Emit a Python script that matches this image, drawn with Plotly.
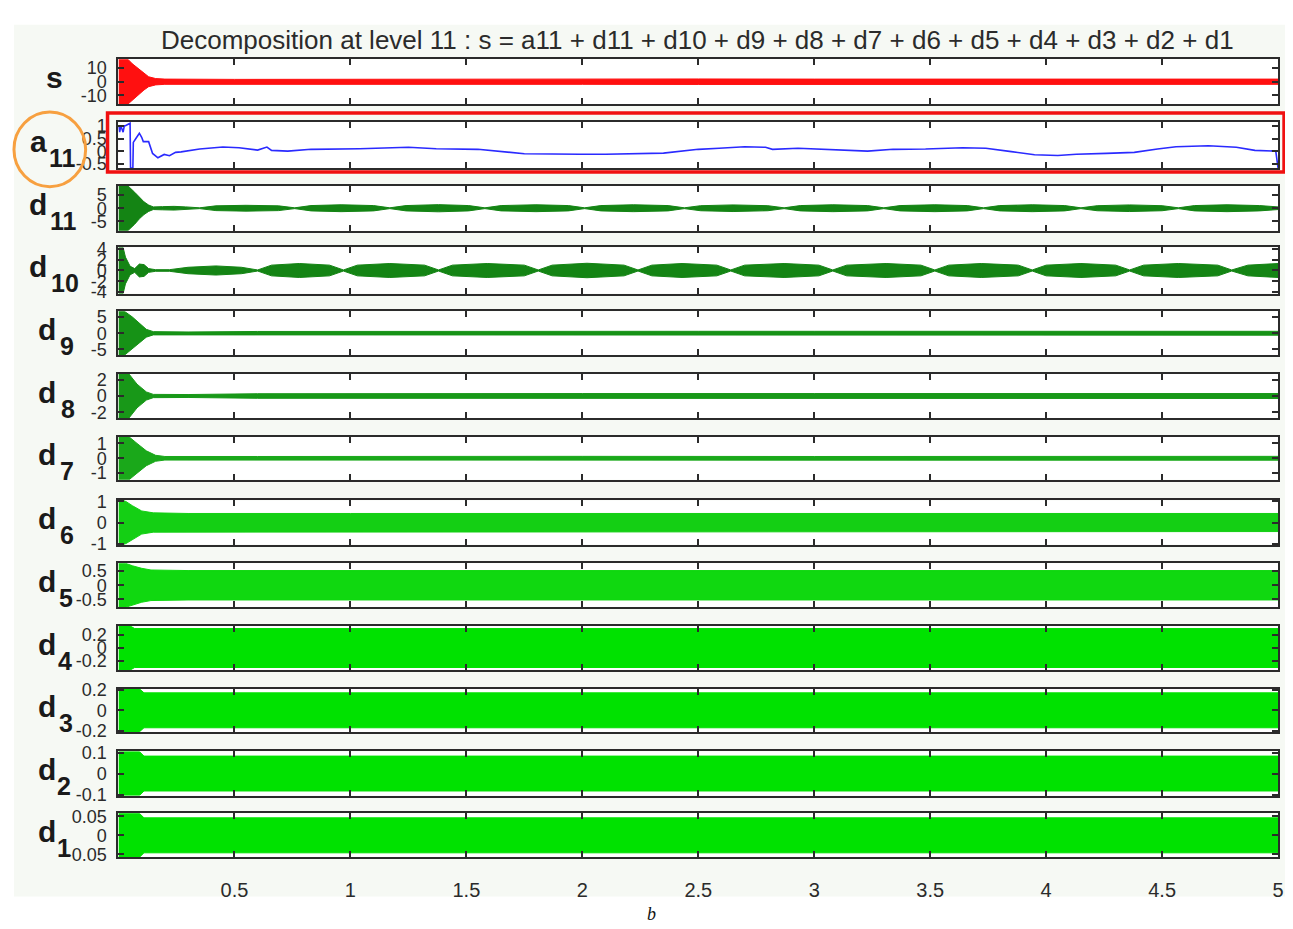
import plotly.graph_objects as go

W, H = 1293, 929

# ---------------- data ----------------
panel_names = ["s", "a11", "d11", "d10", "d9", "d8", "d7", "d6", "d5", "d4", "d3", "d2", "d1"]
label_letters = ["s", "a", "d", "d", "d", "d", "d", "d", "d", "d", "d", "d", "d"]
label_subs = ["", "11", "11", "10", "9", "8", "7", "6", "5", "4", "3", "2", "1"]

x_tick_vals = [0.5, 1, 1.5, 2, 2.5, 3, 3.5, 4, 4.5, 5]
x_tick_text = ["0.5", "1", "1.5", "2", "2.5", "3", "3.5", "4", "4.5", "5"]

y_ranges = [
    [-16.4, 16.4], [-0.65, 1.15], [-8.5, 8.5], [-4.3, 4.3], [-6.8, 6.8],
    [-2.7, 2.7], [-1.45, 1.45], [-1.05, 1.05], [-0.78, 0.78], [-0.34, 0.34],
    [-0.21, 0.21], [-0.105, 0.105], [-0.058, 0.058],
]
y_tick_vals = [
    [-10, 0, 10], [-0.5, 0, 0.5, 1], [-5, 0, 5], [-4, -2, 0, 2, 4], [-5, 0, 5],
    [-2, 0, 2], [-1, 0, 1], [-1, 0, 1], [-0.5, 0, 0.5], [-0.2, 0, 0.2],
    [-0.2, 0, 0.2], [-0.1, 0, 0.1], [-0.05, 0, 0.05],
]
y_tick_text = [
    ["-10", "0", "10"], ["-0.5", "0", "0.5", "1"], ["-5", "0", "5"], ["-4", "-2", "0", "2", "4"],
    ["-5", "0", "5"], ["-2", "0", "2"], ["-1", "0", "1"], ["-1", "0", "1"],
    ["-0.5", "0", "0.5"], ["-0.2", "0", "0.2"], ["-0.2", "0", "0.2"], ["-0.1", "0", "0.1"],
    ["-0.05", "0", "0.05"],
]

# signal s : envelope of the oscillation
s_x = [0, 0.04, 0.06, 0.09, 0.11, 0.13, 0.16, 0.2, 0.5, 1.0, 1.5, 2.0, 2.5, 3.0, 3.5, 4.0, 4.5, 5.0]
s_amp = [16.4, 16.4, 13, 9, 6, 3.6, 2.3, 1.9, 1.7, 1.9, 1.8, 1.9, 2.0, 1.9, 1.9, 2.1, 2.0, 1.9]

# approximation a11 : line
a11_x = [0.0, 0.005, 0.01, 0.02, 0.025, 0.03, 0.05, 0.052, 0.062, 0.064, 0.075, 0.09, 0.1, 0.107,
         0.13, 0.147, 0.17, 0.197, 0.22, 0.246, 0.27, 0.35, 0.45, 0.52, 0.6, 0.64, 0.66, 0.73, 0.83,
         1.04, 1.25, 1.37, 1.55, 1.63, 1.75, 1.99, 2.1, 2.35, 2.5, 2.59, 2.7, 2.79, 2.82, 2.93, 3.07,
         3.23, 3.34, 3.48, 3.64, 3.74, 3.85, 3.95, 4.05, 4.13, 4.26, 4.38, 4.48, 4.56, 4.7, 4.82, 4.9,
         4.99, 5.0]
a11_y = [1.0, 0.75, 1.0, 0.75, 1.0, 1.0, 1.1, -0.65, -0.65, 0.35, 0.5, 0.71, 0.55, 0.38,
         0.38, -0.08, -0.25, -0.12, -0.17, -0.04, -0.02, 0.09, 0.17, 0.14, 0.05, 0.17, 0.04, 0.01, 0.08,
         0.1, 0.16, 0.1, 0.08, 0.01, -0.09, -0.11, -0.11, -0.07, 0.08, 0.12, 0.18, 0.16, 0.08, 0.12, 0.08,
         0.01, 0.08, 0.09, 0.14, 0.12, -0.01, -0.13, -0.16, -0.11, -0.08, -0.04, 0.09, 0.18, 0.22, 0.16, 0.04,
         0.01, -0.65]

d11_x = [0, 0.04, 0.07, 0.09, 0.11, 0.13, 0.15, 0.19, 0.24, 0.29, 0.35,
         0.42, 0.55, 0.69, 0.76, 0.83, 0.96, 1.10, 1.17, 1.24, 1.38, 1.51, 1.58,
         1.65, 1.80, 1.94, 2.01, 2.08, 2.22, 2.37, 2.44, 2.51, 2.65, 2.80, 2.87,
         2.94, 3.08, 3.23, 3.30, 3.37, 3.52, 3.66, 3.73, 3.80, 3.94, 4.08, 4.15,
         4.22, 4.36, 4.50, 4.57, 4.64, 4.78, 4.92, 5.0]
d11_amp = [8.5, 8.5, 6.0, 4.0, 2.4, 1.2, 0.5, 0.6, 0.7, 0.5, 0.15,
           0.9, 1.1, 0.9, 0.15, 1.0, 1.3, 1.0, 0.15, 1.0, 1.35, 1.0, 0.15,
           1.0, 1.3, 1.0, 0.15, 1.0, 1.3, 1.0, 0.15, 0.95, 1.25, 0.95, 0.15,
           1.0, 1.3, 1.0, 0.15, 1.0, 1.3, 1.0, 0.15, 1.0, 1.3, 1.0, 0.15,
           0.95, 1.25, 0.95, 0.15, 1.0, 1.3, 1.0, 0.5]

d10_x = [0, 0.02, 0.03, 0.05, 0.07, 0.09, 0.11, 0.13, 0.16, 0.22, 0.30, 0.42, 0.53, 0.60,
         0.66, 0.78, 0.91, 0.97, 1.03, 1.17, 1.32, 1.38, 1.44, 1.59, 1.75, 1.81,
         1.87, 2.02, 2.18, 2.24, 2.30, 2.43, 2.58, 2.64, 2.70, 2.87, 3.02, 3.08,
         3.14, 3.31, 3.46, 3.52, 3.58, 3.72, 3.88, 3.94, 4.00, 4.15, 4.30, 4.36,
         4.42, 4.57, 4.74, 4.80, 4.87, 5.0]
d10_amp = [4.3, 4.3, 2.5, 0.8, 0.35, 1.2, 1.1, 0.35, 0.15, 0.15, 0.6, 0.85, 0.6, 0.1,
           1.0, 1.3, 1.0, 0.1, 1.0, 1.3, 1.0, 0.1, 1.0, 1.3, 1.0, 0.1,
           1.0, 1.35, 1.0, 0.1, 1.0, 1.3, 1.0, 0.1, 1.0, 1.3, 1.0, 0.1,
           1.0, 1.3, 1.0, 0.1, 1.0, 1.3, 1.0, 0.1, 1.0, 1.3, 1.0, 0.1,
           1.0, 1.3, 1.0, 0.1, 1.0, 1.3]

d9_x = [0, 0.025, 0.06, 0.09, 0.12, 0.15, 0.3, 0.6, 1.0, 1.5, 2.0, 2.5, 3.0, 3.5, 4.0, 4.5, 5.0]
d9_amp = [6.8, 6.8, 5.0, 3.0, 1.2, 0.5, 0.4, 0.55, 0.6, 0.6, 0.55, 0.6, 0.6, 0.55, 0.6, 0.6, 0.6]

d8_x = [0, 0.045, 0.08, 0.12, 0.15, 0.3, 0.6, 1.0, 2.0, 3.0, 4.0, 5.0]
d8_amp = [2.7, 2.7, 1.45, 0.5, 0.2, 0.18, 0.28, 0.3, 0.3, 0.3, 0.3, 0.3]

d7_x = [0, 0.045, 0.08, 0.12, 0.16, 0.2, 0.6, 1.0, 2.0, 3.0, 4.0, 5.0]
d7_amp = [1.45, 1.45, 1.0, 0.5, 0.2, 0.12, 0.12, 0.13, 0.13, 0.12, 0.13, 0.13]

d6_x = [0, 0.025, 0.06, 0.1, 0.15, 0.3, 1.0, 2.0, 3.0, 4.0, 5.0]
d6_amp = [1.05, 1.05, 0.8, 0.55, 0.46, 0.43, 0.43, 0.43, 0.43, 0.43, 0.43]

d5_x = [0, 0.03, 0.06, 0.1, 0.14, 0.3, 5.0]
d5_amp = [0.78, 0.78, 0.69, 0.6, 0.54, 0.52, 0.52]

d4_x = [0, 0.05, 0.07, 5.0]
d4_amp = [0.34, 0.34, 0.3, 0.3]

d3_x = [0, 0.09, 0.11, 5.0]
d3_amp = [0.21, 0.21, 0.17, 0.17]

d2_x = [0, 0.09, 0.11, 5.0]
d2_amp = [0.105, 0.105, 0.083, 0.083]

d1_x = [0, 0.09, 0.11, 5.0]
d1_amp = [0.058, 0.058, 0.046, 0.046]

band_x = [s_x, None, d11_x, d10_x, d9_x, d8_x, d7_x, d6_x, d5_x, d4_x, d3_x, d2_x, d1_x]
band_amp = [s_amp, None, d11_amp, d10_amp, d9_amp, d8_amp, d7_amp, d6_amp, d5_amp, d4_amp, d3_amp, d2_amp, d1_amp]

# ---------------- styling / layout ----------------
band_colors = ["#ff1010", None, "#148414", "#148414", "#169216", "#189818", "#1aa81a",
               "#14cf14", "#10d810", "#00e200", "#00e200", "#00e200", "#00e200"]
line_color_a = "#2a2aff"

panel_top_px = [43, 107, 172, 235, 300, 364, 428, 493, 557, 621, 685, 749, 812]
panel_bot_px = [89, 154, 218, 282, 345, 409, 472, 538, 602, 666, 729, 794, 857]
x_left_px, x_right_px = 111, 1276

letter_x_px = [47, 31, 30, 30, 39, 39, 39, 39, 39, 39, 39, 39, 39]
sub_x_px = [0, 55, 56, 57, 59, 60, 59, 59, 58, 57, 58, 56, 56]

tick_font = dict(family="Liberation Sans, Arial, sans-serif", size=18, color="#2b2b2b")
axis_col = "#2b2b2b"

fig = go.Figure()
n = len(panel_names)

for i in range(n):
    xa = "x" if i == 0 else f"x{i+1}"
    ya = "y" if i == 0 else f"y{i+1}"
    if band_x[i] is not None:
        bx = band_x[i]
        ba = band_amp[i]
        xs = list(bx) + list(reversed(bx))
        ys = list(ba) + [-v for v in reversed(ba)]
        fig.add_trace(go.Scatter(x=xs, y=ys, mode="lines", fill="toself",
                                 fillcolor=band_colors[i],
                                 line=dict(color=band_colors[i], width=1),
                                 xaxis=xa, yaxis=ya, hoverinfo="skip", showlegend=False))
    else:
        fig.add_trace(go.Scatter(x=a11_x, y=a11_y, mode="lines",
                                 line=dict(color=line_color_a, width=1.6),
                                 xaxis=xa, yaxis=ya, hoverinfo="skip", showlegend=False))

layout = dict(
    width=W, height=H,
    margin=dict(l=0, r=0, t=0, b=0),
    paper_bgcolor="white",
    plot_bgcolor="white",
    showlegend=False,
)

for i in range(n):
    xkey = "xaxis" if i == 0 else f"xaxis{i+1}"
    ykey = "yaxis" if i == 0 else f"yaxis{i+1}"
    ya = "y" if i == 0 else f"y{i+1}"
    xa = "x" if i == 0 else f"x{i+1}"
    dom_y = [1 - panel_bot_px[i] / H, 1 - panel_top_px[i] / H]
    last = (i == n - 1)
    layout[xkey] = dict(
        domain=[x_left_px / W, x_right_px / W], anchor=ya, range=[0, 5],
        tickmode="array", tickvals=x_tick_vals, ticktext=x_tick_text,
        showticklabels=last, ticks="inside", ticklen=6, tickwidth=2, tickcolor=axis_col,
        showline=True, linecolor=axis_col, linewidth=2, mirror="allticks",
        showgrid=False, zeroline=False, tickfont=dict(tick_font, size=20),
        ticklabelstandoff=14,
    )
    layout[ykey] = dict(
        domain=dom_y, anchor=xa, range=y_ranges[i],
        tickmode="array", tickvals=y_tick_vals[i], ticktext=y_tick_text[i],
        ticks="inside", ticklen=6, tickwidth=2, tickcolor=axis_col,
        showline=True, linecolor=axis_col, linewidth=2, mirror="allticks",
        showgrid=False, zeroline=False, tickfont=tick_font, ticklabelstandoff=6,
    )

shapes = []
# tinted backdrop of the original figure window
shapes.append(dict(type="rect", xref="paper", yref="paper", layer="below",
                   x0=6 / W, x1=1286 / W, y0=1 - 897 / H, y1=1 - 8 / H,
                   fillcolor="#f6f9f4", line=dict(width=0)))
for i in range(n):
    shapes.append(dict(type="rect", xref="paper", yref="paper", layer="below",
                       x0=x_left_px / W, x1=x_right_px / W,
                       y0=1 - panel_bot_px[i] / H, y1=1 - panel_top_px[i] / H,
                       fillcolor="white", line=dict(width=0)))
# red highlight box around a11
shapes.append(dict(type="rect", xref="paper", yref="paper",
                   x0=100 / W, x1=1282 / W, y0=1 - 158 / H, y1=1 - 98 / H,
                   line=dict(color="#f01010", width=3.5)))
# orange circle around the a11 label
shapes.append(dict(type="circle", xref="paper", yref="paper",
                   x0=6 / W, x1=78 / W, y0=1 - 173 / H, y1=1 - 97 / H,
                   line=dict(color="#f7a040", width=3)))

annotations = []
annotations.append(dict(
    text="Decomposition at level 11 : s = a11 + d11 + d10 + d9 + d8 + d7 + d6 + d5 + d4 + d3 + d2 + d1",
    xref="paper", yref="paper", x=692.5 / W, y=1 - 23 / H, xanchor="center", yanchor="middle",
    showarrow=False, font=dict(family="Liberation Sans, Arial, sans-serif", size=26, color="#2b2b2b")))
for i in range(n):
    pc = (panel_top_px[i] + panel_bot_px[i]) / 2
    annotations.append(dict(
        text="<b>" + label_letters[i] + "</b>", xref="paper", yref="paper",
        x=letter_x_px[i] / W, y=1 - (pc - 4) / H, xanchor="center", yanchor="middle",
        showarrow=False, font=dict(family="Liberation Sans, Arial, sans-serif", size=30, color="#1a1a1a")))
    if label_subs[i]:
        annotations.append(dict(
            text="<b>" + label_subs[i] + "</b>", xref="paper", yref="paper",
            x=sub_x_px[i] / W, y=1 - (pc + 13) / H, xanchor="center", yanchor="middle",
            showarrow=False, font=dict(family="Liberation Sans, Arial, sans-serif", size=25, color="#1a1a1a")))
annotations.append(dict(
    text="<i>b</i>", xref="paper", yref="paper", x=647 / W, y=1 - 915 / H,
    xanchor="center", yanchor="middle", showarrow=False,
    font=dict(family="Liberation Serif, Times New Roman, serif", size=18, color="#111111")))

layout["shapes"] = shapes
layout["annotations"] = annotations
fig.update_layout(**layout)

fig.write_html("out.html")
